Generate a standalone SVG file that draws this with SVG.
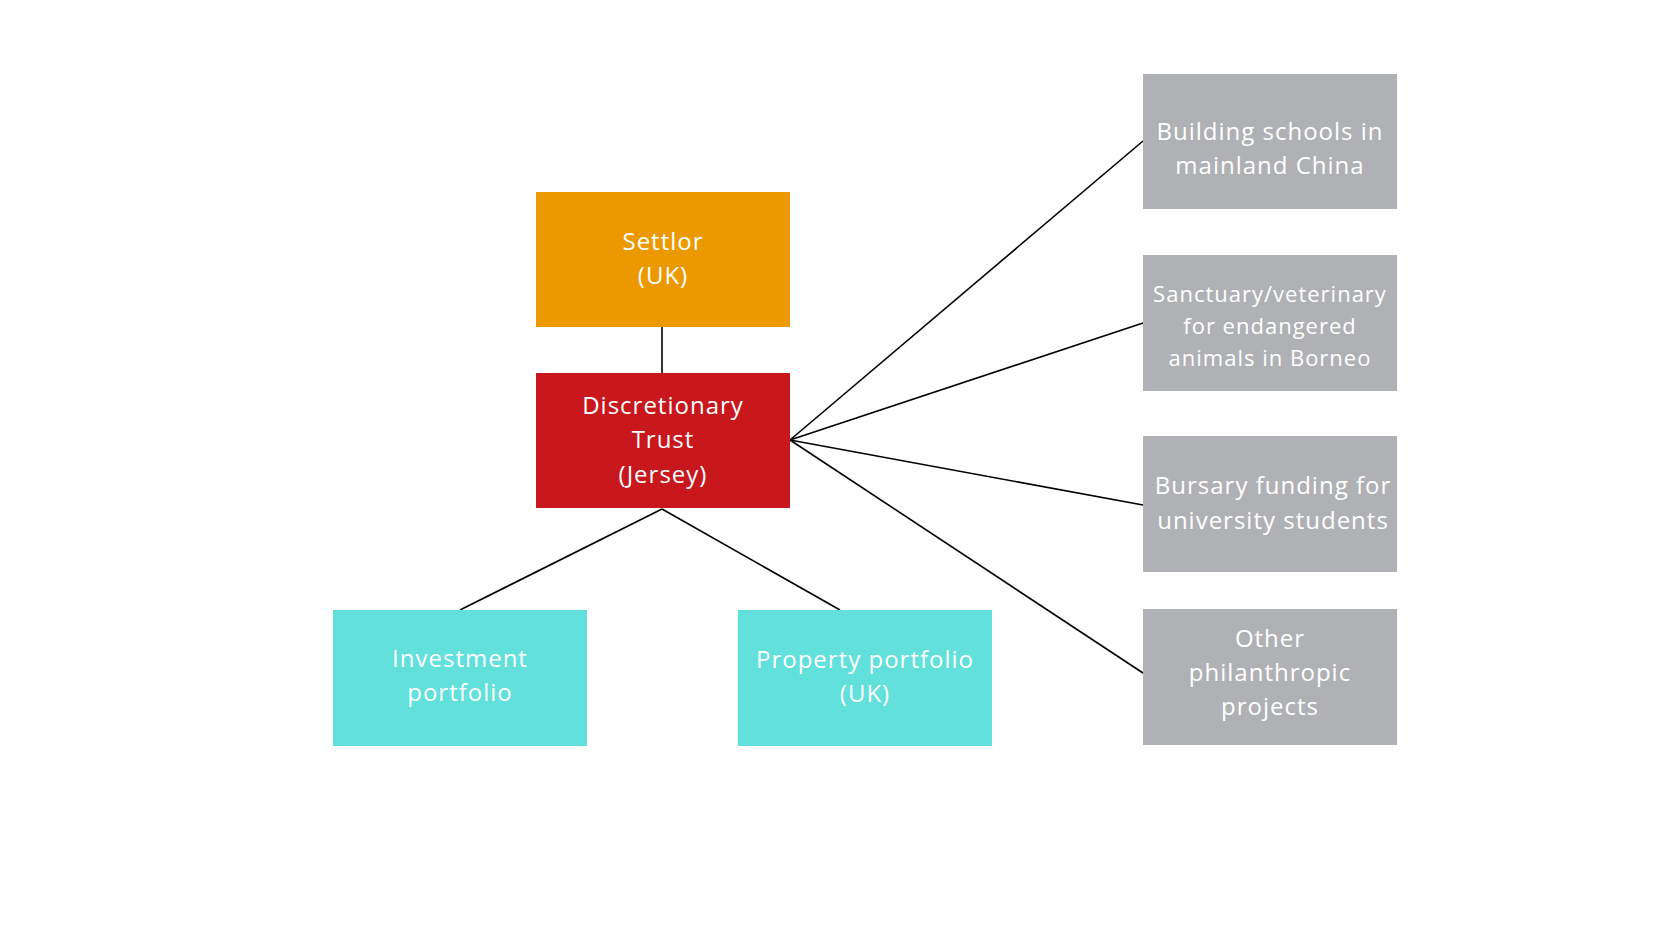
<svg xmlns="http://www.w3.org/2000/svg" width="1680" height="945" viewBox="0 0 1680 945">
<style>
.lbl{font-family:"Open Sans","DejaVu Sans",sans-serif;font-size:24px;fill:#ffffff;text-anchor:middle;letter-spacing:1px}
.sm{font-size:22px;letter-spacing:1px}
.orange{fill:#EC9900}
.red{fill:#C8171D}
.cyan{fill:#61E0DC}
.gray{fill:#B0B1B4}
.conn line{stroke:#000;stroke-width:1.6;fill:none}
</style>
<rect width="1680" height="945" fill="#ffffff"/>
<g id="connectors" class="conn">
<line x1="662" y1="327" x2="662" y2="373"/>
<line x1="662" y1="509" x2="460" y2="610"/>
<line x1="662" y1="509" x2="840" y2="610"/>
<line x1="790" y1="440" x2="1143" y2="141"/>
<line x1="790" y1="440" x2="1143" y2="323"/>
<line x1="790" y1="440" x2="1143" y2="505"/>
<line x1="790" y1="440" x2="1143" y2="673"/>
</g>
<g id="settlor">
<rect class="orange" x="536" y="192" width="254" height="135"/>
<text class="lbl" x="663" y="250">Settlor</text>
<text class="lbl" x="663" y="284">(UK)</text>
</g>
<g id="trust">
<rect class="red" x="536" y="373" width="254" height="135"/>
<text class="lbl" x="663" y="414">Discretionary</text>
<text class="lbl" x="663" y="448">Trust</text>
<text class="lbl" x="663" y="483">(Jersey)</text>
</g>
<g id="investment">
<rect class="cyan" x="333" y="610" width="254" height="136"/>
<text class="lbl" x="460" y="667">Investment</text>
<text class="lbl" x="460" y="701">portfolio</text>
</g>
<g id="property">
<rect class="cyan" x="738" y="610" width="254" height="136"/>
<text class="lbl" x="865" y="668">Property portfolio</text>
<text class="lbl" x="865" y="702">(UK)</text>
</g>
<g id="schools">
<rect class="gray" x="1143" y="74" width="254" height="135"/>
<text class="lbl" x="1270" y="140">Building schools in</text>
<text class="lbl" x="1270" y="174">mainland China</text>
</g>
<g id="sanctuary">
<rect class="gray" x="1143" y="255" width="254" height="136"/>
<text class="lbl sm" x="1270" y="302">Sanctuary/veterinary</text>
<text class="lbl sm" x="1270" y="334">for endangered</text>
<text class="lbl sm" x="1270" y="366">animals in Borneo</text>
</g>
<g id="bursary">
<rect class="gray" x="1143" y="436" width="254" height="136"/>
<text class="lbl" x="1273" y="494">Bursary funding for</text>
<text class="lbl" x="1273" y="529">university students</text>
</g>
<g id="other">
<rect class="gray" x="1143" y="609" width="254" height="136"/>
<text class="lbl" x="1270" y="647">Other</text>
<text class="lbl" x="1270" y="681">philanthropic</text>
<text class="lbl" x="1270" y="715">projects</text>
</g>
</svg>
